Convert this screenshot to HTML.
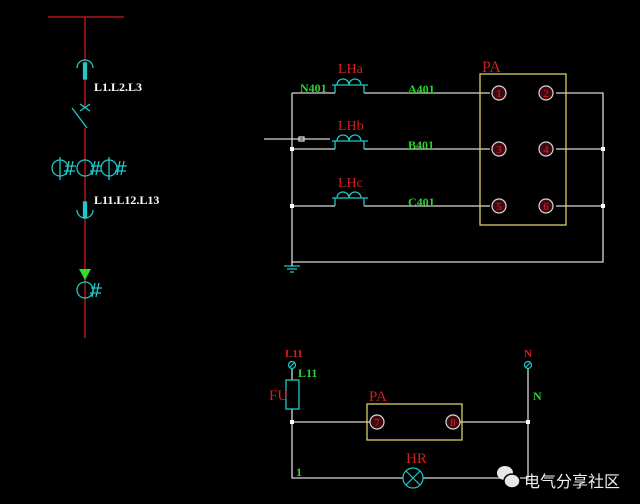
<!DOCTYPE html>
<html><head><meta charset="utf-8"><style>html,body{margin:0;padding:0;background:#000;width:640px;height:504px;overflow:hidden}</style></head>
<body>
<svg width="640" height="504" viewBox="0 0 640 504" xmlns="http://www.w3.org/2000/svg" font-family="Liberation Serif, serif">
<rect width="640" height="504" fill="#000"/>
<g stroke="#b01818" stroke-width="1.5" fill="none">
<line x1="48" y1="17" x2="124" y2="17"/>
<line x1="85" y1="17" x2="85" y2="107"/>
<line x1="85" y1="128" x2="85" y2="338"/>
</g>
<g stroke="#20c8c8" stroke-width="1.3" fill="none">
<path d="M77 68 A8 8 0 0 1 93 68"/>
<rect x="83.5" y="63" width="3" height="16" fill="#20c8c8"/>
<path d="M80 104 L90 111 M90 104 L80 111"/>
<line x1="72" y1="108" x2="87" y2="128"/>
<circle cx="60" cy="168" r="8"/><line x1="60" y1="157" x2="60" y2="180"/>
<circle cx="85" cy="168" r="8"/>
<circle cx="109" cy="168" r="8"/><line x1="109" y1="157" x2="109" y2="180"/>
<path d="M69 161 L66 175 M73 161 L70 175 M65 166 L76 166 M64 171 L75 171"/>
<path d="M95 161 L92 175 M99 161 L96 175 M91 166 L102 166 M90 171 L101 171"/>
<path d="M120 161 L117 175 M124 161 L121 175 M116 166 L127 166 M115 171 L126 171"/>
<path d="M77 210 A8 8 0 0 0 93 210"/>
<rect x="83.5" y="202" width="3" height="16" fill="#20c8c8"/>
<circle cx="85" cy="290" r="8"/>
<path d="M95 283 L92 297 M99 283 L96 297 M91 288 L102 288 M90 293 L101 293"/>
</g>
<polygon points="79,269 91,269 85,280" fill="#30e030"/>
<g fill="#fff" font-size="12" font-weight="bold">
<text x="94" y="91">L1.L2.L3</text>
<text x="94" y="204">L11.L12.L13</text>
</g>
<g stroke="#d8d8d8" stroke-width="1.3" fill="none">
<polyline points="292,93 335,93"/>
<polyline points="364,93 490,93"/>
<polyline points="556,93 603,93 603,262 292,262 292,93"/>
<polyline points="292,149 335,149"/><polyline points="364,149 490,149"/><polyline points="556,149 603,149"/>
<polyline points="292,206 335,206"/><polyline points="364,206 490,206"/><polyline points="556,206 603,206"/>
<line x1="264" y1="139" x2="330" y2="139"/>
<rect x="299" y="137" width="5" height="4"/>
</g>
<g fill="#fff"><rect x="290" y="147" width="4" height="4"/><rect x="290" y="204" width="4" height="4"/><rect x="601" y="147" width="4" height="4"/><rect x="601" y="204" width="4" height="4"/></g>
<g stroke="#20c8c8" stroke-width="1.3" fill="none">
<path d="M332 85 L368 85 M335 85 L335 93 M364 85 L364 93 M337 85 A6 6 0 0 1 349 85 A6 6 0 0 1 361 85"/>
<path d="M332 141 L368 141 M335 141 L335 149 M364 141 L364 149 M337 141 A6 6 0 0 1 349 141 A6 6 0 0 1 361 141"/>
<path d="M332 198 L368 198 M335 198 L335 206 M364 198 L364 206 M337 198 A6 6 0 0 1 349 198 A6 6 0 0 1 361 198"/>
<path d="M284 266 L300 266 M287 269 L297 269 M290 272 L294 272"/>
</g>
<line x1="292" y1="262" x2="292" y2="266" stroke="#d8d8d8" stroke-width="1.3"/>
<rect x="480" y="74" width="86" height="151" fill="none" stroke="#d8d060" stroke-width="1.3"/>
<g stroke="#d8d8d8" stroke-width="1.2" fill="#400810">
<circle cx="499" cy="93" r="7"/><circle cx="546" cy="93" r="7"/>
<circle cx="499" cy="149" r="7"/><circle cx="546" cy="149" r="7"/>
<circle cx="499" cy="206" r="7"/><circle cx="546" cy="206" r="7"/>
</g>
<g fill="#e02020" font-size="11" text-anchor="middle">
<text x="499" y="97">1</text><text x="546" y="97">2</text>
<text x="499" y="153">3</text><text x="546" y="153">4</text>
<text x="499" y="210">5</text><text x="546" y="210">6</text>
</g>
<g fill="#d02020" font-size="14">
<text x="338" y="73">LHa</text><text x="338" y="130">LHb</text><text x="338" y="187">LHc</text>
<text x="482" y="72" font-size="16">PA</text>
</g>
<g fill="#30d030" font-size="12" font-weight="bold">
<text x="300" y="92">N401</text><text x="408" y="93">A401</text><text x="408" y="149">B401</text><text x="408" y="206">C401</text>
</g>
<g stroke="#d8d8d8" stroke-width="1.3" fill="none">
<polyline points="292,369 292,380"/>
<polyline points="292,409 292,478 403,478"/>
<polyline points="423,478 528,478 528,369"/>
<polyline points="292,422 370,422"/><polyline points="460,422 528,422"/>
</g>
<g fill="#fff"><rect x="290" y="420" width="4" height="4"/><rect x="526" y="420" width="4" height="4"/></g>
<rect x="286" y="380" width="13" height="29" fill="none" stroke="#20c8c8" stroke-width="1.3"/>
<g stroke="#20c8c8" stroke-width="1.2" fill="none">
<circle cx="292" cy="365" r="3.5"/><line x1="290" y1="367" x2="294" y2="363"/>
<circle cx="528" cy="365" r="3.5"/><line x1="526" y1="367" x2="530" y2="363"/>
<circle cx="413" cy="478" r="10"/><path d="M406 471 L420 485 M420 471 L406 485"/>
</g>
<rect x="367" y="404" width="95" height="36" fill="none" stroke="#d8d060" stroke-width="1.3"/>
<g stroke="#d8d8d8" stroke-width="1.2" fill="#400810"><circle cx="377" cy="422" r="7"/><circle cx="453" cy="422" r="7"/></g>
<g fill="#e02020" font-size="11" text-anchor="middle"><text x="377" y="426">7</text><text x="453" y="426">8</text></g>
<g fill="#d02020" font-size="11" font-weight="bold">
<text x="285" y="357">L11</text><text x="524" y="357">N</text>
</g>
<g fill="#d02020" font-size="15"><text x="269" y="400">FU</text><text x="369" y="401">PA</text><text x="406" y="463">HR</text></g>
<g fill="#30d030" font-size="12" font-weight="bold"><text x="298" y="377">L11</text><text x="533" y="400">N</text><text x="296" y="476">1</text></g>
<g fill="#e8e8e8"><ellipse cx="505" cy="473" rx="8" ry="7"/><ellipse cx="512" cy="481" rx="8" ry="7" stroke="#000" stroke-width="1.5"/></g>
<text x="524" y="487" fill="#f0f0f0" font-size="16" font-family="Liberation Sans, Noto Sans CJK SC, sans-serif">电气分享社区</text>
</svg>
</body></html>
